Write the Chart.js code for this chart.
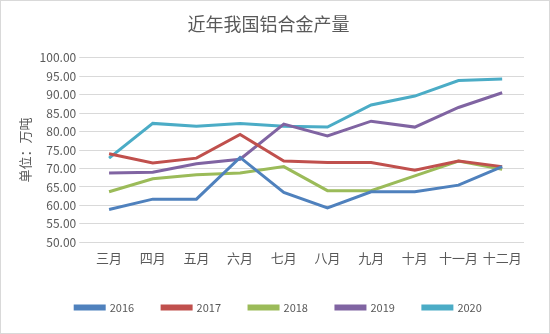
<!DOCTYPE html>
<html>
<head>
<meta charset="utf-8">
<script src="https://cdn.jsdelivr.net/npm/chart.js@4/dist/chart.umd.min.js"></script>
<style>
  body { margin: 0; background: #fff; }
  #wrap { position: relative; width: 548px; height: 332px; border: 1px solid #d9d9d9; }
</style>
</head>
<body>
<div id="wrap"><canvas id="grafica"></canvas></div>
<script>
// 月份
const meses = ["三月", "四月", "五月", "六月", "七月", "八月", "九月", "十月", "十一月", "十二月"];
// 产量（万吨）
const datos2016 = [58.9, 61.7, 61.7, 73.0, 63.5, 59.3, 63.7, 63.7, 65.5, 70.5];
const datos2017 = [74.0, 71.5, 72.8, 79.2, 72.0, 71.6, 71.6, 69.5, 72.0, 70.5];
const datos2018 = [63.7, 67.2, 68.3, 68.8, 70.5, 64.0, 64.0, 68.0, 72.0, 69.8];
const datos2019 = [68.8, 69.0, 71.3, 72.5, 82.0, 78.8, 82.8, 81.2, 86.5, 90.5];
const datos2020 = [72.8, 82.2, 81.4, 82.2, 81.4, 81.2, 87.2, 89.6, 93.8, 94.2];

const fuente = "'Noto Sans CJK SC', 'Noto Sans', sans-serif";

function serie(label, data, color) {
    return {
        label: label,
        data: data,
        borderColor: color,
        backgroundColor: color,
        borderWidth: 3,
        pointRadius: 0,
        fill: false,
        tension: 0
    };
}

// mover la leyenda un poco a la derecha, como en el original
const moverLeyenda = {
    id: 'moverLeyenda',
    afterLayout(chart) {
        chart.legend.left += 10;
        chart.legend.right += 10;
    }
};

const grafica = document.getElementById("grafica").getContext("2d");
new Chart(grafica, {
    type: 'line',
    data: {
        labels: meses,
        datasets: [
            serie('2016', datos2016, '#4f81bd'),
            serie('2017', datos2017, '#c0504d'),
            serie('2018', datos2018, '#9bbb59'),
            serie('2019', datos2019, '#8064a2'),
            serie('2020', datos2020, '#4bacc6')
        ]
    },
    plugins: [moverLeyenda],
    options: {
        responsive: true,
        maintainAspectRatio: false,
        animation: false,
        layout: { padding: { left: 12, right: 25, top: 6, bottom: 10 } },
        scales: {
            x: {
                offset: true,
                grid: { display: false },
                border: { display: false },
                ticks: { color: '#595959', font: { family: fuente, size: 13 }, maxRotation: 0, autoSkip: false, padding: 0 },
                afterFit: s => { s.height += 8; }
            },
            y: {
                min: 50,
                max: 100,
                ticks: {
                    stepSize: 5,
                    color: '#595959',
                    font: { family: fuente, size: 12 },
                    callback: v => v.toFixed(2)
                },
                grid: { color: '#d9d9d9' },
                border: { display: false },
                title: {
                    display: true,
                    text: '单位：万吨',
                    color: '#595959',
                    font: { family: fuente, size: 13 }
                }
            }
        },
        plugins: {
            title: {
                display: true,
                text: '近年我国铝合金产量',
                color: '#595959',
                font: { family: fuente, size: 18, weight: 'normal' },
                padding: { top: 6, bottom: 23 }
            },
            legend: {
                display: true,
                position: 'bottom',
                labels: {
                    boxWidth: 29,
                    boxHeight: 3,
                    padding: 28,
                    color: '#595959',
                    font: { family: fuente, size: 11 }
                }
            },
            tooltip: { enabled: false }
        }
    }
});
</script>
</body>
</html>
